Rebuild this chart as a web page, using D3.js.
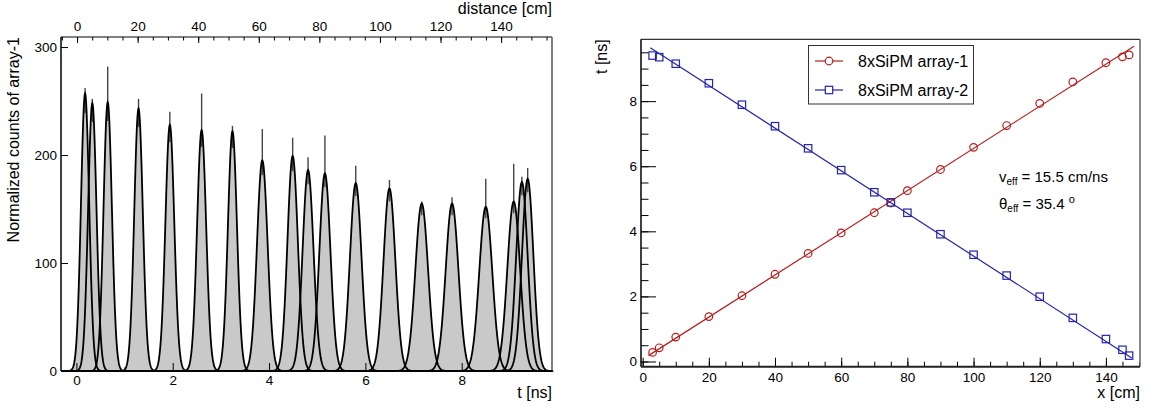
<!DOCTYPE html>
<html>
<head>
<meta charset="utf-8">
<script src="https://cdn.jsdelivr.net/npm/d3@7"></script>
<style>
body { margin: 0; background: #fff; }
svg text { font-family: "Liberation Sans", Arial, sans-serif; fill: #000; }
</style>
</head>
<body>
<div id="chart"></div>
<script>
// Left pad: time spectra of array-1, one gaussian peak per source position
const peakMean  = [0.18, 0.33, 0.65, 1.29, 1.94, 2.60, 3.24, 3.86, 4.49, 4.81, 5.16, 5.80, 6.50, 7.17, 7.80, 8.50, 9.08, 9.25, 9.37];
const peakAmp   = [257, 248, 249, 243, 228, 223, 222, 195, 199, 186, 183, 174, 169, 155, 155, 152, 157, 175, 178];
const peakSigma = [0.085, 0.087, 0.087, 0.089, 0.092, 0.094, 0.094, 0.11, 0.108, 0.113, 0.115, 0.12, 0.123, 0.132, 0.132, 0.135, 0.132, 0.12, 0.118];
const peakMaxBin = [262, 252, 282, 252, 240, 257, 227, 224, 216, 198, 218, 190, 177, 157, 161, 178, 192, 180, 188];
const countTicks = [0, 100, 200, 300];
const timeTicks = [0, 2, 4, 6, 8];
const distTicks = [0, 20, 40, 60, 80, 100, 120, 140];

// Right pad: peak time vs source position
const positions = [3, 5, 10, 20, 30, 40, 50, 60, 70, 75, 80, 90, 100, 110, 120, 130, 140, 145, 147];
const tArray1 = [0.28, 0.42, 0.75, 1.38, 2.02, 2.68, 3.32, 3.95, 4.57, 4.87, 5.25, 5.90, 6.58, 7.25, 7.93, 8.59, 9.18, 9.36, 9.42];
const tArray2 = [9.40, 9.35, 9.15, 8.55, 7.89, 7.23, 6.55, 5.88, 5.20, 4.89, 4.57, 3.91, 3.28, 2.64, 1.99, 1.34, 0.69, 0.36, 0.18];
const fit1 = { a: 0.067, b: 0.0648, from: 1.75, to: 148.5 };
const fit2 = { a: 9.79, b: -0.0655, from: 2.3, to: 147.8 };
const xTicks = [0, 20, 40, 60, 80, 100, 120, 140];
const tTicks = [0, 2, 4, 6, 8];
const legendNames = ["8xSiPM array-1", "8xSiPM array-2"];

const RED = "#b81e1e", BLUE = "#2424ae";

const svg = d3.select("#chart").append("svg")
    .attr("width", 1153)
    .attr("height", 412);

// ---------- left pad ----------
const L = { x0: 61, x1: 552, y0: 37, y1: 371 };
const xT = d3.scaleLinear().domain([-0.32, 9.875]).range([L.x0, L.x1]);
const xD = d3.scaleLinear().domain([-5.3, 156.8]).range([L.x0, L.x1]);
const yC = d3.scaleLinear().domain([0, 309.3]).range([L.y1, L.y0]);

const left = svg.append("g");

// bottom ticks (under the histograms)
left.append("g")
    .attr("transform", `translate(0,${L.y1})`)
    .call(d3.axisBottom(xT).tickValues(d3.range(0, 10, 0.5)).tickSize(-4).tickFormat(""))
    .call(g => g.select(".domain").remove());

const gauss = (p, t) => peakAmp[p] * Math.exp(-0.5 * Math.pow((t - peakMean[p]) / peakSigma[p], 2));

const peaks = d3.range(peakMean.length).map(p => {
    const m = peakMean[p], s = peakSigma[p];
    return d3.range(0, 121).map(k => {
        const t = m - 4.5 * s + k * 9 * s / 120;
        return [t, gauss(p, t)];
    });
});

const area = d3.area().x(d => xT(d[0])).y0(yC(0)).y1(d => yC(d[1]));
const curve = d3.line().x(d => xT(d[0])).y(d => yC(d[1]));

left.selectAll(".hist").data(peaks).enter().append("path")
    .attr("class", "hist")
    .attr("d", area)
    .attr("fill", "#c9c9c9");

// spikes of the highest bins
left.selectAll(".spike").data(peakMean).enter().append("line")
    .attr("class", "spike")
    .attr("x1", d => xT(d)).attr("x2", d => xT(d))
    .attr("y1", (d, i) => yC(peakAmp[i] * 0.93))
    .attr("y2", (d, i) => yC(peakMaxBin[i]))
    .attr("stroke", "#444").attr("stroke-width", 1.4);

left.selectAll(".fitcurve").data(peaks).enter().append("path")
    .attr("class", "fitcurve")
    .attr("d", curve)
    .attr("fill", "none")
    .attr("stroke", "#000")
    .attr("stroke-width", 1.8);

// axes
const axL = left.append("g")
    .attr("transform", `translate(${L.x0},0)`)
    .call(d3.axisLeft(yC).tickValues(countTicks).tickSize(-7).tickPadding(4));
const axB = left.append("g")
    .attr("transform", `translate(0,${L.y1})`)
    .call(d3.axisBottom(xT).tickValues(timeTicks).tickSize(-8).tickPadding(4.5));
const axT = left.append("g")
    .attr("transform", `translate(0,${L.y0})`)
    .call(d3.axisTop(xD).tickValues(distTicks).tickSize(-6).tickPadding(6));
left.append("g")
    .attr("transform", `translate(0,${L.y0})`)
    .call(d3.axisTop(xD).tickValues(d3.range(-5, 157, 5)).tickSize(-3.5).tickFormat(""))
    .call(g => g.select(".domain").remove());

[axL, axB, axT].forEach(g => {
    g.select(".domain").remove();
    g.selectAll("text").style("font-size", "13.5px").attr("fill", "#000");
    g.selectAll("line").attr("stroke", "#000");
});

left.append("line").attr("x1", L.x0).attr("x2", L.x1).attr("y1", L.y0).attr("y2", L.y0).attr("stroke", "#000");
left.append("line").attr("x1", L.x1).attr("x2", L.x1).attr("y1", L.y0).attr("y2", L.y1).attr("stroke", "#555").attr("stroke-width", 1.5);
left.append("line").attr("x1", L.x0).attr("x2", L.x0).attr("y1", L.y0).attr("y2", L.y1).attr("stroke", "#000").attr("stroke-width", 1.5);
left.append("line").attr("x1", L.x0).attr("x2", L.x1).attr("y1", L.y1).attr("y2", L.y1).attr("stroke", "#000").attr("stroke-width", 2);

left.append("text").attr("x", L.x1).attr("y", 398).attr("text-anchor", "end")
    .style("font-size", "16px").text("t [ns]");
left.append("text").attr("x", L.x1).attr("y", 14).attr("text-anchor", "end")
    .style("font-size", "16px").text("distance [cm]");
left.append("text").attr("transform", `translate(18.5,${L.y0}) rotate(-90)`)
    .attr("text-anchor", "end").style("font-size", "16px").text("Normalized counts of array-1");

// ---------- right pad ----------
const R = { x0: 641, x1: 1140, y0: 39.3, y1: 366.7 };
const xP = d3.scaleLinear().domain([-0.5, 150.3]).range([R.x0, R.x1]);
const yP = d3.scaleLinear().domain([-0.16, 9.9]).range([R.y1, R.y0]);

const right = svg.append("g");

right.append("g")
    .attr("transform", `translate(0,${R.y1})`)
    .call(d3.axisBottom(xP).tickValues(d3.range(0, 151, 5)).tickSize(-5).tickFormat(""))
    .call(g => g.select(".domain").remove());
right.append("g")
    .attr("transform", `translate(${R.x0},0)`)
    .call(d3.axisLeft(yP).tickValues(d3.range(0, 9.9, 0.5)).tickSize(-7.5).tickFormat(""))
    .call(g => g.select(".domain").remove());
const axRB = right.append("g")
    .attr("transform", `translate(0,${R.y1})`)
    .call(d3.axisBottom(xP).tickValues(xTicks).tickSize(-9).tickPadding(5.5));
const axRL = right.append("g")
    .attr("transform", `translate(${R.x0},0)`)
    .call(d3.axisLeft(yP).tickValues(tTicks).tickSize(-15).tickPadding(4));
[axRB, axRL].forEach(g => {
    g.select(".domain").remove();
    g.selectAll("text").style("font-size", "13.5px").attr("fill", "#000");
});
right.selectAll(".tick line").attr("stroke", "#000");

right.append("line").attr("x1", R.x0).attr("x2", R.x1).attr("y1", R.y0).attr("y2", R.y0).attr("stroke", "#000");
right.append("line").attr("x1", R.x1).attr("x2", R.x1).attr("y1", R.y0).attr("y2", R.y1).attr("stroke", "#666").attr("stroke-width", 1.5);
right.append("line").attr("x1", R.x0).attr("x2", R.x0).attr("y1", R.y0).attr("y2", R.y1).attr("stroke", "#000").attr("stroke-width", 1.5);
right.append("line").attr("x1", R.x0).attr("x2", R.x1).attr("y1", R.y1).attr("y2", R.y1).attr("stroke", "#222").attr("stroke-width", 2);

// fit lines
[[fit1, RED], [fit2, BLUE]].forEach(([f, c]) => {
    right.append("line")
        .attr("x1", xP(f.from)).attr("y1", yP(f.a + f.b * f.from))
        .attr("x2", xP(f.to)).attr("y2", yP(f.a + f.b * f.to))
        .attr("stroke", c).attr("stroke-width", 1.2);
});

// markers
right.selectAll(".m1").data(positions).enter().append("circle")
    .attr("class", "m1")
    .attr("cx", d => xP(d)).attr("cy", (d, i) => yP(tArray1[i]))
    .attr("r", 3.8).attr("fill", "none").attr("stroke", RED).attr("stroke-width", 1.2);
right.selectAll(".m2").data(positions).enter().append("rect")
    .attr("class", "m2")
    .attr("x", d => xP(d) - 3.7).attr("y", (d, i) => yP(tArray2[i]) - 3.7)
    .attr("width", 7.4).attr("height", 7.4)
    .attr("fill", "none").attr("stroke", BLUE).attr("stroke-width", 1.2);

// legend
const lg = right.append("g");
lg.append("rect").attr("x", 808.5).attr("y", 45.5).attr("width", 165).attr("height", 58.5)
    .attr("fill", "#fff").attr("stroke", "#333").attr("stroke-width", 1);
legendNames.forEach((name, i) => {
    const cy = 61 + i * 29;
    const c = i === 0 ? RED : BLUE;
    lg.append("line").attr("x1", 815).attr("x2", 843).attr("y1", cy).attr("y2", cy)
        .attr("stroke", c).attr("stroke-width", 1.2);
    if (i === 0) {
        lg.append("circle").attr("cx", 829).attr("cy", cy).attr("r", 3.8)
            .attr("fill", "#fff").attr("stroke", c).attr("stroke-width", 1.2);
    } else {
        lg.append("rect").attr("x", 829 - 3.7).attr("y", cy - 3.7).attr("width", 7.4).attr("height", 7.4)
            .attr("fill", "#fff").attr("stroke", c).attr("stroke-width", 1.2);
    }
    lg.append("text").attr("x", 858).attr("y", cy + 5.6).style("font-size", "16px").text(name);
});

// annotations
const a1 = right.append("text").attr("x", 999).attr("y", 182).style("font-size", "15px");
a1.append("tspan").text("v");
a1.append("tspan").attr("dy", 3).style("font-size", "10px").text("eff");
a1.append("tspan").attr("dy", -3).text(" = 15.5 cm/ns");
const a2 = right.append("text").attr("x", 999).attr("y", 209).style("font-size", "15px");
a2.append("tspan").text("θ");
a2.append("tspan").attr("dy", 3).style("font-size", "10px").text("eff");
a2.append("tspan").attr("dy", -3).text(" = 35.4 ");
a2.append("tspan").attr("dy", -6).style("font-size", "11px").text("o");

right.append("text").attr("x", R.x1).attr("y", 398).attr("text-anchor", "end")
    .style("font-size", "16px").text("x [cm]");
right.append("text").attr("transform", `translate(606.5,${R.y0}) rotate(-90)`)
    .attr("text-anchor", "end").style("font-size", "16px").text("t [ns]");
</script>
</body>
</html>
